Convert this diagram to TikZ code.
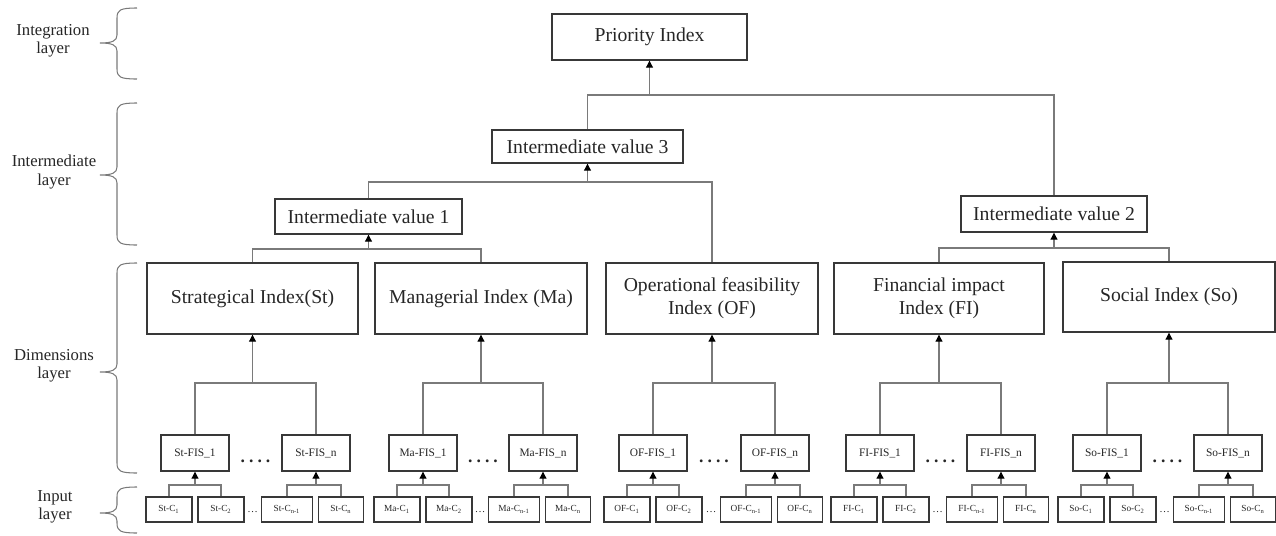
\documentclass[tikz,border=0pt]{standalone}
\usepackage{fontspec}
\setmainfont{Liberation Serif}
\usetikzlibrary{arrows.meta}

\definecolor{boxc}{HTML}{383838}
\definecolor{linec}{HTML}{7A7A7A}
\definecolor{txt}{HTML}{262626}

% curly brace opening to the right, tip pointing left (top, tip, bottom)
\newcommand\layerbrace[3]{%
  \draw[brc] (137,#1) .. controls (120,#1) and (117,#1+2) .. (117,#1+10)
    -- (117,#2-8) .. controls (117,#2-2) and (112,#2) .. (100,#2)
    .. controls (112,#2) and (117,#2+2) .. (117,#2+8)
    -- (117,#3-10) .. controls (117,#3-2) and (120,#3) .. (137,#3);}

\begin{document}
\begin{tikzpicture}[x=0.02cm,y=-0.02cm,
  bx/.style 2 args={draw=boxc, line width=0.8pt, minimum width=#1*0.02cm,
    minimum height=#2*0.02cm, inner sep=0pt, align=center, text=txt},
  big/.style={font=\fontsize{11.2}{13}\selectfont},
  fis/.style={font=\fontsize{6.5}{7}\selectfont},
  inp/.style={font=\fontsize{5.3}{6}\selectfont},
  fisdots/.style={font=\bfseries\fontsize{10}{10}\selectfont, inner sep=0pt, text=txt},
  inpdots/.style={font=\fontsize{6}{6}\selectfont, inner sep=0pt, text=txt},
  ln/.style={draw=linec, line width=0.6pt},
  arr/.style={ln, -{Triangle[length=4pt,width=4pt,black]}},
  brc/.style={draw=linec, line width=0.6pt},
  lay/.style={font=\fontsize{9.5}{10.5}\selectfont, align=center, text=txt, inner sep=0pt}
]
\useasboundingbox (0,0) rectangle (1276,535);

% layer labels and braces
\node[lay] (l1) at (53,41) {Integration\\layer};
\node[lay] (l2) at (54,172) {Intermediate\\layer};
\node[lay] (l3) at (54,366) {Dimensions\\layer};
\node[lay] (l4) at (55,507) {Input\\layer};
\layerbrace{8}{43}{79}
\layerbrace{103}{175}{245}
\layerbrace{263}{372}{473}
\layerbrace{487}{513}{533}

% integration and intermediate values
\node[bx={195}{46}, big] (pri) at (649.5,37) {Priority Index};
\node[bx={191}{33}, big] (iv3) at (587.5,146.5) {Intermediate value 3};
\node[bx={187}{35}, big] (iv1) at (368.5,216.5) {Intermediate value 1};
\node[bx={186}{36}, big] (iv2) at (1054,214) {Intermediate value 2};

% dimensions
\node[bx={211}{71}, big] (st) at (252.5,298.5) {Strategical Index(St)};
\node[bx={212}{71}, big] (ma) at (481,298.5) {Managerial Index (Ma)};
\node[bx={212}{71}, big] (of) at (712,298.5) {Operational feasibility\\Index (OF)};
\node[bx={210}{71}, big] (fi) at (939,298.5) {Financial impact\\Index (FI)};
\node[bx={212}{70}, big] (so) at (1169,297) {Social Index (So)};

% junction levels
\coordinate (j0) at (0,95);
\coordinate (j1) at (0,182);
\coordinate (j2) at (0,249);
\coordinate (j3) at (0,248);
\coordinate (jf) at (0,383);
\coordinate (jk) at (0,485);

\draw[ln] (iv3.north) -- (iv3.north |- j0) -- (iv2.north |- j0) -- (iv2.north);
\draw[arr] (pri.south |- j0) -- (pri.south);
\draw[ln] (iv1.north) -- (iv1.north |- j1) -- (of.north |- j1) -- (of.north);
\draw[arr] (iv3.south |- j1) -- (iv3.south);
\draw[ln] (st.north) -- (st.north |- j2) -- (ma.north |- j2) -- (ma.north);
\draw[arr] (iv1.south |- j2) -- (iv1.south);
\draw[ln] (fi.north) -- (fi.north |- j3) -- (so.north |- j3) -- (so.north);
\draw[arr] (iv2.south |- j3) -- (iv2.south);

% fuzzy inference systems and their inputs, one group per dimension
\foreach \n/\p/\a/\b in {st/St/195/316, ma/Ma/423/543, of/OF/653/775,
                         fi/FI/880/1001, so/So/1107/1228}{
  \node[bx={68}{36}, fis] (\n-f1) at (\a,453) {\p-FIS\_1};
  \node[bx={68}{36}, fis] (\n-fn) at (\b,453) {\p-FIS\_n};
  \node[fisdots] (\n-fd) at ({(\a+\b)/2},461) {.\hspace{2.3pt}.\hspace{2.3pt}.\hspace{2.3pt}.};
  \draw[ln] (\n-f1.north) -- (\n-f1.north |- jf) -- (\n-fn.north |- jf) -- (\n-fn.north);
  \draw[arr] (\n.south |- jf) -- (\n.south);
  \node[bx={46}{25}, inp] (\n-c1) at (\a-26,509.5) {\p-C\textsubscript{1}};
  \node[bx={46}{25}, inp] (\n-c2) at (\a+26,509.5) {\p-C\textsubscript{2}};
  \node[bx={51}{25}, inp] (\n-c3) at (\b-29,509.5) {\p-C\textsubscript{n-1}};
  \node[bx={45}{25}, inp] (\n-c4) at (\b+25,509.5) {\p-C\textsubscript{n}};
  \node[inpdots] (\n-cd) at ({(\a+49+\b-54.5)/2},512) {\dots};
  \draw[ln] (\n-c1.north) -- (\n-c1.north |- jk) -- (\n-c2.north |- jk) -- (\n-c2.north);
  \draw[arr] (\n-f1.south |- jk) -- (\n-f1.south);
  \draw[ln] (\n-c3.north) -- (\n-c3.north |- jk) -- (\n-c4.north |- jk) -- (\n-c4.north);
  \draw[arr] (\n-fn.south |- jk) -- (\n-fn.south);
}
\end{tikzpicture}
\end{document}
